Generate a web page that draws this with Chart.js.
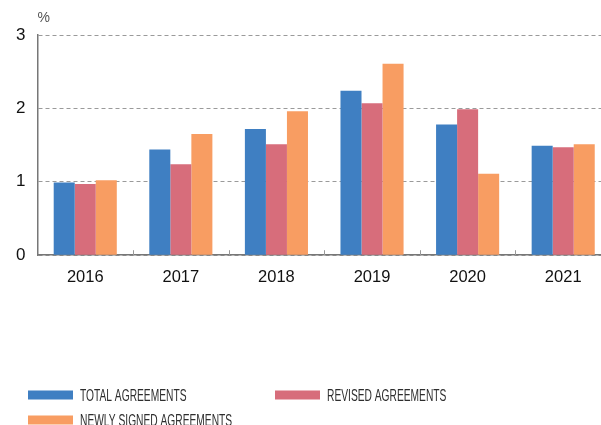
<!DOCTYPE html>
<html>
<head>
<meta charset="utf-8">
<script src="https://cdn.jsdelivr.net/npm/chart.js@4"></script>
<style>
  html, body { margin: 0; padding: 0; background: #fff; overflow: hidden; }
  #wrap { width: 601px; height: 425px; overflow: hidden; }
</style>
</head>
<body>
<div id="wrap"><canvas id="agreementsChart" width="611" height="425"></canvas></div>
<script>
// agreements by year, %
const years = ['2016', '2017', '2018', '2019', '2020', '2021'];
const totalAgreements = [0.99, 1.44, 1.72, 2.24, 1.78, 1.49];
const revisedAgreements = [0.97, 1.24, 1.51, 2.07, 1.99, 1.47];
const newlySigned = [1.02, 1.65, 1.96, 2.61, 1.11, 1.51];
const yTicks = [0, 1, 2, 3];

const seriesNames = ['TOTAL AGREEMENTS', 'REVISED AGREEMENTS', 'NEWLY SIGNED AGREEMENTS'];
const seriesColors = ['#3f7fc2', '#d76d7b', '#f89d62'];

// small upward ticks between the year groups + the "%" unit label
const axisExtras = {
  id: 'axisExtras',
  afterDraw(chart) {
    const { ctx, chartArea, scales } = chart;
    const x = scales.x;
    ctx.save();
    ctx.strokeStyle = '#999';
    ctx.lineWidth = 1;
    for (let i = 1; i < years.length; i++) {
      const px = Math.round((x.getPixelForTick(i - 1) + x.getPixelForTick(i)) / 2) + 0.5;
      ctx.beginPath();
      ctx.moveTo(px, chartArea.bottom);
      ctx.lineTo(px, chartArea.bottom - 5);
      ctx.stroke();
    }
    ctx.fillStyle = '#555';
    ctx.font = '14px "Liberation Sans", Arial, sans-serif';
    ctx.textBaseline = 'middle';
    ctx.fillText('%', chartArea.left, 18);
    ctx.restore();
  }
};

// legend laid out in two columns under the chart
const bottomLegend = {
  id: 'bottomLegend',
  afterDraw(chart) {
    const { ctx } = chart;
    const spots = [[28, 395], [275, 395], [28, 420]];
    ctx.save();
    chart.data.datasets.forEach((ds, i) => {
      const [lx, ly] = spots[i];
      ctx.fillStyle = ds.backgroundColor;
      ctx.fillRect(lx, ly - 4.5, 45, 9);
      ctx.save();
      ctx.translate(lx + 52, ly + 1);
      ctx.scale(0.62, 1);
      ctx.fillStyle = '#2e2e2e';
      ctx.font = '16.5px "Liberation Sans", Arial, sans-serif';
      ctx.textBaseline = 'middle';
      ctx.fillText(ds.label, 0, 0);
      ctx.restore();
    });
    ctx.restore();
  }
};

const chart = new Chart(document.getElementById('agreementsChart'), {
  type: 'bar',
  data: {
    labels: years,
    datasets: [totalAgreements, revisedAgreements, newlySigned].map((vals, i) => ({
      label: seriesNames[i],
      data: vals,
      backgroundColor: seriesColors[i],
      borderWidth: 0,
      categoryPercentage: 0.66,
      barPercentage: 1.0
    }))
  },
  options: {
    responsive: false,
    animation: false,
    layout: { padding: { left: 4, right: 0, top: 35, bottom: 126 } },
    plugins: {
      legend: { display: false },
      tooltip: { enabled: false }
    },
    scales: {
      x: {
        grid: { display: false, drawTicks: false },
        border: { display: true, color: '#777', width: 1.5 },
        ticks: {
          color: '#111',
          padding: 12,
          font: { family: '"Liberation Sans", Arial, sans-serif', size: 16.5 }
        }
      },
      y: {
        min: 0,
        max: 3,
        afterBuildTicks(axis) { axis.ticks = yTicks.map(v => ({ value: v })); },
        grid: { color: '#9a9a9a', lineWidth: 1, drawTicks: false },
        border: { display: true, color: '#777', width: 1.5, dash: [4, 3] },
        ticks: {
          color: '#111',
          padding: 12,
          font: { family: '"Liberation Sans", Arial, sans-serif', size: 17 }
        }
      }
    }
  },
  plugins: [axisExtras, bottomLegend]
});
</script>
</body>
</html>
